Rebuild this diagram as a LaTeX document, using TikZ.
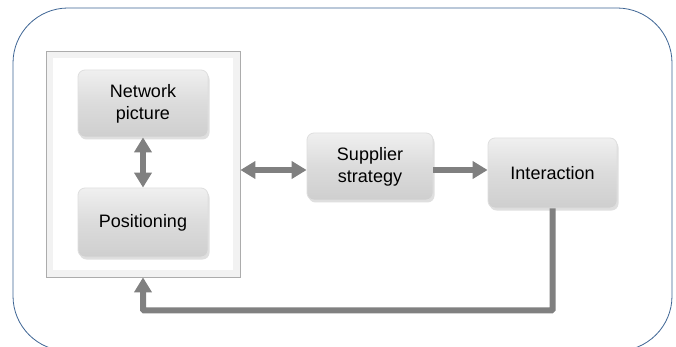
\documentclass[tikz,border=0pt]{standalone}
\usepackage{fontspec}
\setmainfont{Liberation Sans}
\usetikzlibrary{arrows.meta,shadows}
\definecolor{frameblue}{HTML}{3E6594}
\definecolor{arrgray}{HTML}{808080}
\tikzset{
  stepbox/.style={rectangle, rounded corners=7pt, minimum width=130pt, align=center,
    top color=gray!12, bottom color=gray!38, middle color=gray!28, draw=gray!25, line width=0.8pt,
    drop shadow={shadow xshift=1.5pt, shadow yshift=-2.5pt, opacity=0.25},
    font=\fontsize{18}{22}\selectfont},
  arr/.style={draw=arrgray, line width=6pt, arrows={-Triangle[width=17pt,length=15pt]}},
  darr/.style={draw=arrgray, line width=6pt, arrows={Triangle[width=17pt,length=15pt]-Triangle[width=17pt,length=15pt]}}
}
\begin{document}
\begin{tikzpicture}[x=1pt,y=-1pt]
\useasboundingbox (0,0) rectangle (676,347);
\clip (0,0) rectangle (676,347);
\fill[white] (0,0) rectangle (676,347);
% outer frame
\draw[frameblue, line width=0.8pt, rounded corners=55pt] (13,8) rectangle (672,351);
% container
\node[draw=gray!65, fill=gray!10, line width=0.8pt, minimum width=194pt, minimum height=226pt, inner sep=0pt] (box) at (143,164) {};
\node[fill=white, minimum width=180pt, minimum height=212pt, inner sep=0pt] (boxin) at (box.center) {};
% nodes
\node[stepbox, minimum width=130pt, minimum height=67pt] (net) at (143,103.5) {Network\\picture};
\node[stepbox, minimum width=130pt, minimum height=69pt] (pos) at (143,222.5) {Positioning};
\node[stepbox, minimum width=126pt, minimum height=67pt] (sup) at (370,166.5) {Supplier\\strategy};
\node[stepbox, minimum width=129pt, minimum height=70pt] (inter) at (552.5,173) {Interaction};
% connectors
\draw[darr] (net.south) -- (pos.north);
\coordinate (hl) at (box.east |- 0,170);
\coordinate (hr) at (sup.west |- 0,170);
\draw[darr] (hl) -- (hr);
\coordinate (sl) at (sup.east |- 0,170);
\coordinate (sr) at (inter.west |- 0,170);
\draw[arr] (sl) -- (sr);
\draw[arr, rounded corners=1pt] (inter.south) -- ++(0,102) -| (box.south);
\end{tikzpicture}
\end{document}
